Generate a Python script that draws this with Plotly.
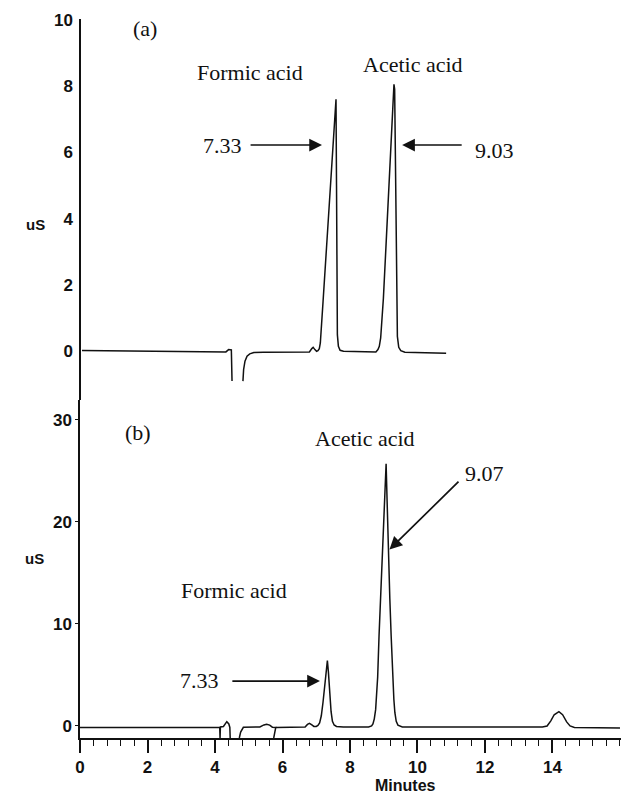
import plotly.graph_objects as go

W, H = 621, 804

# ---- Chromatogram (a): standard, retention time (min) vs conductivity (uS)
t_a = [-0.12, 2.0, 4.10, 4.18, 4.26, 4.28, None,
       4.60, 4.62, 4.66, 4.72, 4.80, 4.92, 5.20, 6.00, 6.55, 6.62, 6.66, 6.71,
       6.76, 6.80, 6.84, 6.87, 6.90, 6.95, 7.05, 7.15, 7.25, 7.33, 7.345, 7.36,
       7.37, 7.40, 7.45, 7.55, 8.00, 8.50, 8.56, 8.60, 8.64, 8.68, 8.72, 8.80,
       8.90, 8.98, 9.03, 9.05, 9.09, 9.13, 9.17, 9.23, 9.35, 10.0, 10.56]
s_a = [0.02, 0.0, -0.02, 0.05, 0.04, -0.9, None,
       -0.9, -0.55, -0.3, -0.15, -0.08, -0.04, -0.03, -0.03, -0.02, 0.08, 0.12, 0.05,
       0.0, 0.02, 0.08, 0.25, 0.65, 1.5, 3.1, 4.7, 6.3, 7.6, 5.0, 1.5,
       0.5, 0.15, 0.03, 0.0, -0.02, -0.02, 0.05, 0.15, 0.4, 0.9, 1.6, 3.26,
       5.35, 7.0, 8.05, 7.9, 4.0, 0.45, 0.12, 0.02, -0.03, -0.05, -0.06]

# ---- Chromatogram (b): sample
t_b = [0.0, 2.0, 4.14, 4.15, 4.16, 4.25, 4.32, 4.35, 4.41, 4.44, 4.45, None,
       4.72, 4.76, 4.84, 5.0, 5.33, 5.45, 5.53, 5.62, 5.70, 5.80, 5.74, None,
       5.80, 6.30, 6.67, 6.74, 6.80, 6.87, 6.93, 7.00, 7.05, 7.10, 7.15, 7.20,
       7.25, 7.29, 7.33, 7.36, 7.40, 7.44, 7.48, 7.53, 7.60, 7.80, 8.55, 8.64,
       8.68, 8.72, 8.76, 8.79, 8.82, 8.86, 8.91, 8.96, 9.02, 9.07, 9.10, 9.13,
       9.18, 9.22, 9.27, 9.30, 9.33, 9.37, 9.42, 9.55, 11.0, 13.70, 13.84,
       13.95, 14.05, 14.19, 14.30, 14.42, 14.52, 14.65, 16.0]
s_b = [-0.15, -0.15, -0.15, -1.18, -0.1, -0.05, 0.3, 0.42, 0.2, -0.15, -1.18, None,
       -1.18, -0.6, -0.13, -0.1, -0.1, 0.1, 0.17, 0.08, -0.12, -0.15, -1.18, None,
       -0.15, -0.1, -0.1, 0.15, 0.26, 0.1, -0.05, -0.05, 0.05, 0.3, 1.0, 2.3,
       3.9, 5.4, 6.4, 5.3, 3.2, 1.4, 0.45, 0.1, -0.05, -0.1, -0.1, 0.0,
       0.2, 0.7, 1.6, 2.9, 4.8, 8.8, 13.0, 17.3, 22.0, 25.7, 22.0, 17.3,
       12.5, 8.8, 4.5, 2.6, 1.3, 0.45, 0.08, -0.1, -0.1, -0.1, 0.0,
       0.5, 1.1, 1.4, 1.1, 0.4, 0.0, -0.15, -0.2]

# axis ticks
x_ticks = [0, 2, 4, 6, 8, 10, 12, 14]
y_ticks_a = [0, 2, 4, 6, 8, 10]
y_ticks_b = [0, 10, 20, 30]

# peak labels: (name, retention time)
peaks_a = [("Formic acid", 7.33), ("Acetic acid", 9.03)]
peaks_b = [("Formic acid", 7.33), ("Acetic acid", 9.07)]


def px(x):
    return x / W


def py(y):
    return 1 - y / H


INK = "#111111"
tick_font = dict(family="Liberation Sans", size=17, color=INK, weight="bold")
serif = dict(family="Liberation Serif", size=22, color=INK)

fig = go.Figure()
fig.add_trace(go.Scatter(x=t_a, y=s_a, mode="lines", xaxis="x2", yaxis="y2",
                         line=dict(color=INK, width=1.5), connectgaps=False,
                         showlegend=False, hoverinfo="skip"))
fig.add_trace(go.Scatter(x=t_b, y=s_b, mode="lines", xaxis="x", yaxis="y",
                         line=dict(color=INK, width=1.5), connectgaps=False,
                         showlegend=False, hoverinfo="skip"))

fig.update_layout(
    width=W, height=H,
    margin=dict(l=0, r=0, t=0, b=0),
    paper_bgcolor="white", plot_bgcolor="white",
    xaxis=dict(domain=[px(80), px(621)], range=[0, 16.03], anchor="y",
               showline=True, linecolor=INK, linewidth=1.5,
               showgrid=False, zeroline=False,
               tickmode="array", tickvals=x_ticks,
               ticktext=[str(v) for v in x_ticks],
               ticks="outside", ticklen=13, tickwidth=1.5, tickcolor=INK,
               tickfont=tick_font,
               minor=dict(tickmode="linear", tick0=0, dtick=0.4, ticks="outside",
                          ticklen=6, tickwidth=1.3, tickcolor=INK),
               automargin=False),
    yaxis=dict(domain=[py(738), py(400)], range=[-1.18, 31.96], anchor="x",
               showline=True, linecolor=INK, linewidth=1.5,
               showgrid=False, zeroline=False,
               tickmode="array", tickvals=y_ticks_b,
               ticks="outside", ticklen=3, tickwidth=1.3, tickcolor=INK,
               tickfont=tick_font, automargin=False),
    xaxis2=dict(domain=[px(81), px(620)], range=[-0.15, 15.66], anchor="y2",
                visible=False),
    yaxis2=dict(domain=[py(400), py(19)], range=[-1.47, 10.02], anchor="x2",
                showline=True, linecolor=INK, linewidth=1.5,
                showgrid=False, zeroline=False,
                tickmode="array", tickvals=y_ticks_a,
                ticks="outside", ticklen=3, tickwidth=1.3, tickcolor="white",
                tickfont=tick_font, automargin=False),
)

ann = []
# axis titles
ann.append(dict(text="uS", x=px(24), y=py(214), xref="paper", yref="paper",
                showarrow=False, font=dict(tick_font, size=15)))
ann.append(dict(text="uS", x=px(23), y=py(569), xref="paper", yref="paper",
                showarrow=False, font=dict(tick_font, size=15)))
ann.append(dict(text="Minutes", x=px(438), y=py(796), xref="paper", yref="paper",
                showarrow=False, font=dict(tick_font, size=16)))

# panel tags
ann.append(dict(text="(a)", x=1.73, y=9.73, xref="x2", yref="y2",
                showarrow=False, font=serif))
ann.append(dict(text="(b)", x=1.72, y=28.8, xref="x", yref="y",
                showarrow=False, font=serif))

# panel (a) labels
ann.append(dict(text=peaks_a[0][0], x=4.80, y=8.42, xref="x2", yref="y2",
                showarrow=False, font=serif))
ann.append(dict(text=peaks_a[1][0], x=9.59, y=8.64, xref="x2", yref="y2",
                showarrow=False, font=serif))
ann.append(dict(text=f"{peaks_a[0][1]:.2f}", x=4.62, y=6.2, xref="x2", yref="y2",
                xanchor="right", showarrow=False, font=serif))
ann.append(dict(text=f"{peaks_a[1][1]:.2f}", x=11.35, y=6.05, xref="x2", yref="y2",
                xanchor="left", showarrow=False, font=serif))
ann.append(dict(text="", x=6.92, y=6.22, ax=4.78, ay=6.22, xref="x2", yref="y2",
                axref="x2", ayref="y2", showarrow=True, arrowhead=2,
                arrowsize=1.5, arrowwidth=1.7, arrowcolor=INK, standoff=0))
ann.append(dict(text="", x=9.27, y=6.22, ax=11.06, ay=6.22, xref="x2", yref="y2",
                axref="x2", ayref="y2", showarrow=True, arrowhead=2,
                arrowsize=1.5, arrowwidth=1.7, arrowcolor=INK, standoff=0))

# panel (b) labels
ann.append(dict(text=peaks_b[1][0], x=8.44, y=28.2, xref="x", yref="y",
                showarrow=False, font=serif))
ann.append(dict(text=peaks_b[0][0], x=4.55, y=13.3, xref="x", yref="y",
                showarrow=False, font=serif))
ann.append(dict(text=f"{peaks_b[1][1]:.2f}", x=11.35, y=24.8, xref="x", yref="y",
                xanchor="left", showarrow=False, font=serif))
ann.append(dict(text=f"{peaks_b[0][1]:.2f}", x=4.18, y=4.5, xref="x", yref="y",
                xanchor="right", showarrow=False, font=serif))
ann.append(dict(text="", x=9.17, y=17.3, ax=11.26, ay=24.1, xref="x", yref="y",
                axref="x", ayref="y", showarrow=True, arrowhead=2,
                arrowsize=1.5, arrowwidth=1.7, arrowcolor=INK, standoff=0))
ann.append(dict(text="", x=7.11, y=4.4, ax=4.47, ay=4.4, xref="x", yref="y",
                axref="x", ayref="y", showarrow=True, arrowhead=2,
                arrowsize=1.5, arrowwidth=1.7, arrowcolor=INK, standoff=0))

fig.update_layout(annotations=ann)
fig.write_html("out.html")
